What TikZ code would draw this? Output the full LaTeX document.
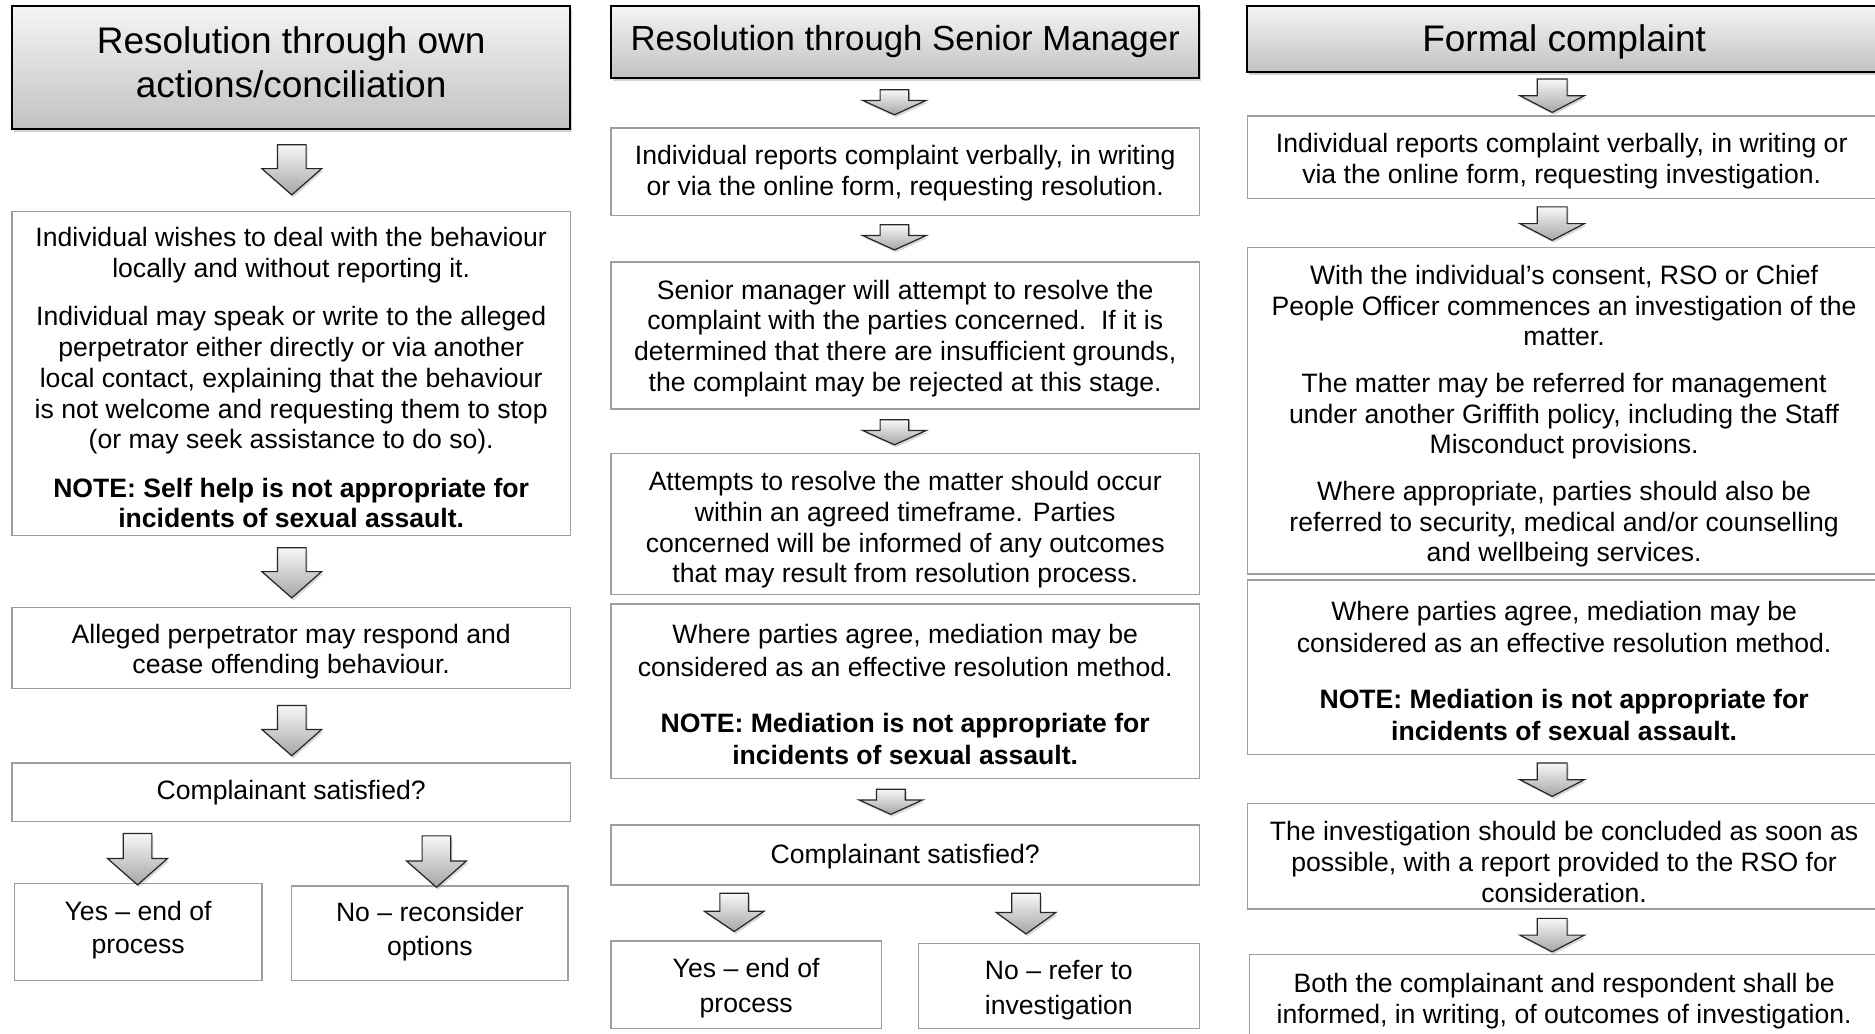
\documentclass[tikz,border=0pt]{standalone}
\usepackage{fontspec}
\setmainfont{Liberation Sans}
\usetikzlibrary{fit,shadows}
\tikzset{
  box/.style={draw=black!38, line width=0.7pt, fill=white, inner sep=0pt},
  txt/.style={inner sep=0pt, align=center, font=\fontsize{13.3}{15.4}\selectfont},
  htxt/.style={inner sep=0pt, align=center, font=\fontsize{18.5}{22}\selectfont},
  headbox/.style={draw=black, line width=1pt, top color=black!4, bottom color=black!24,
    inner sep=0pt,
    drop shadow={opacity=0.35, shadow xshift=1pt, shadow yshift=-1.5pt}},
  blockarr/.style={draw=black!85, line width=0.6pt, top color=black!3, bottom color=black!35,
    drop shadow={opacity=0.3, shadow xshift=0.8pt, shadow yshift=-1.2pt}},
}
% cx, top, head start, tip, shaft half width, head half width
\newcommand{\blkarrow}[6]{%
  \path[blockarr] (#1-#5,#2) -- (#1+#5,#2) -- (#1+#5,#3) -- (#1+#6,#3) -- (#1,#4)
    -- (#1-#6,#3) -- (#1-#5,#3) -- cycle;}
\begin{document}
\begin{tikzpicture}[x=0.598pt, y=-0.598pt]
\useasboundingbox (0,0) rectangle (1568,864);
\clip (0,0) rectangle (1568,864);
\fill[white] (0,0) rectangle (1568,864);

% ---------- Column 1 ----------
\node[headbox, fit={(10,5) (477,108)}] (h1) {};
\node[htxt] (h1t) at (243.5,52) {Resolution through own\\actions/conciliation};
\node[box, fit={(10,177) (477,448)}] (f1) {};
\node[txt] (f1t) at (243.5,316) {Individual wishes to deal with the behaviour\\locally and without reporting it.\\[8.7pt]
Individual may speak or write to the alleged\\perpetrator either directly or via another\\local contact, explaining that the behaviour\\is not welcome and requesting them to stop\\(or may seek assistance to do so).\\[8.7pt]
\textbf{NOTE: Self help is not appropriate for}\\\textbf{incidents of sexual assault.}};
\node[box, fit={(10,508) (477,576)}] (f2) {};
\node[txt] (f2t) at (243.5,545) {Alleged perpetrator may respond and\\cease offending behaviour.};
\node[box, fit={(10,638) (477,687)}] (f3) {};
\node[txt] (f3t) at (243.5,663) {Complainant satisfied?};
\node[box, fit={(12,739) (219,820)}] (f4) {};
\node[txt] (f4t) at (115.5,778) {Yes -- end of\\[1.3pt]process};
\node[box, fit={(244,741) (475,820)}] (f5) {};
\node[txt] (f5t) at (359.5,779) {No -- reconsider\\[1.3pt]options};
\blkarrow{244}{121}{141}{163}{12}{25}
\blkarrow{244}{458}{478}{500}{12}{25}
\blkarrow{244}{590}{610}{632}{12}{25}
\blkarrow{115}{697}{718}{740}{12}{25}
\blkarrow{365}{699}{720}{742}{12}{25}

% ---------- Column 2 ----------
\node[headbox, fit={(511,5) (1003,65)}] (h2) {};
\node[htxt, font=\fontsize{17.4}{21}\selectfont] (h2t) at (757,35) {Resolution through Senior Manager};
\node[box, fit={(511,107) (1003,180)}] (e1) {};
\node[txt] (e1t) at (757,145) {Individual reports complaint verbally, in writing\\or via the online form, requesting resolution.};
\node[box, fit={(511,219) (1003,342)}] (e2) {};
\node[txt] (e2t) at (757,283) {Senior manager will attempt to resolve the\\complaint with the parties concerned.\ \ If it is\\determined that there are insufficient grounds,\\the complaint may be rejected at this stage.};
\node[box, fit={(511,379) (1003,497)}] (e3) {};
\node[txt] (e3t) at (757,443) {Attempts to resolve the matter should occur\\within an agreed timeframe. Parties\\concerned will be informed of any outcomes\\that may result from resolution process.};
\node[box, fit={(511,505) (1003,651)}] (e4) {};
\node[txt] (e4t) at (757,581) {Where parties agree, mediation may be\\[0.7pt]considered as an effective resolution method.\\[12.7pt]
\textbf{NOTE: Mediation is not appropriate for}\\[0.7pt]\textbf{incidents of sexual assault.}};
\node[box, fit={(511,690) (1003,740)}] (e5) {};
\node[txt] (e5t) at (757,716) {Complainant satisfied?};
\node[box, fit={(511,787) (737,860)}] (e6) {};
\node[txt] (e6t) at (624,826) {Yes -- end of\\[2pt]process};
\node[box, fit={(768,789) (1003,860)}] (e7) {};
\node[txt] (e7t) at (885.5,828) {No -- refer to\\[2pt]investigation};
\blkarrow{748}{75}{84}{96}{12}{26.5}
\blkarrow{748}{188}{197}{209}{12}{26.5}
\blkarrow{748}{351}{360}{372}{12}{26.5}
\blkarrow{745}{660}{669}{681}{12}{26.5}
\blkarrow{614}{747}{762}{779}{12}{25}
\blkarrow{858}{747}{763}{781}{12}{25}

% ---------- Column 3 ----------
\node[headbox, fit={(1043,5) (1575,60)}] (h3) {};
\node[htxt] (h3t) at (1308,35) {Formal complaint};
\node[box, fit={(1043,97) (1574,166)}] (d1) {};
\node[txt] (d1t) at (1306,135) {Individual reports complaint verbally, in writing or\\via the online form, requesting investigation.};
\node[box, fit={(1043,207) (1574,480)}] (d2) {};
\node[txt] (d2t) at (1308,348) {With the individual's consent, RSO or Chief\\People Officer commences an investigation of the\\matter.\\[7.8pt]
The matter may be referred for management\\under another Griffith policy, including the Staff\\Misconduct provisions.\\[7.8pt]
Where appropriate, parties should also be\\referred to security, medical and/or counselling\\and wellbeing services.};
\node[box, fit={(1043,485) (1574,631)}] (d3) {};
\node[txt] (d3t) at (1308,561) {Where parties agree, mediation may be\\[0.7pt]considered as an effective resolution method.\\[12.7pt]
\textbf{NOTE: Mediation is not appropriate for}\\[0.7pt]\textbf{incidents of sexual assault.}};
\node[box, fit={(1043,672) (1574,760)}] (d4) {};
\node[txt] (d4t) at (1308,721) {The investigation should be concluded as soon as\\possible, with a report provided to the RSO for\\consideration.};
\node[box, fit={(1045,798) (1574,869)}] (d5) {};
\node[txt] (d5t) at (1308,837) {Both the complainant and respondent shall be\\informed, in writing, of outcomes of investigation.};
\blkarrow{1298}{66}{80}{94}{12.5}{27}
\blkarrow{1298}{173}{187}{201}{12.5}{27}
\blkarrow{1298}{638}{652}{666}{12.5}{27}
\blkarrow{1298}{768}{782}{796}{12.5}{27}
\end{tikzpicture}
\end{document}
